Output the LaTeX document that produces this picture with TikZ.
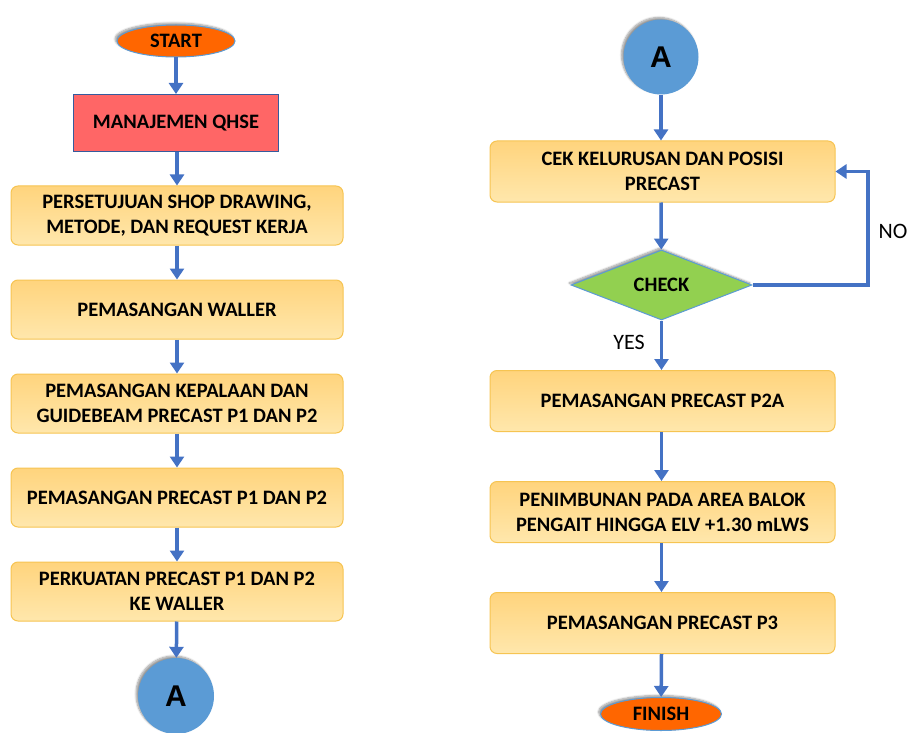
\documentclass[tikz,border=0pt]{standalone}
\usepackage{fontspec}
\setmainfont{Carlito}
\newfontfamily\arialfont{Liberation Sans}
\usetikzlibrary{shapes.geometric,arrows.meta,shadows.blur}
\definecolor{arrowblue}{RGB}{68,114,196}
\definecolor{edgeblue}{RGB}{91,155,213}
\definecolor{termorange}{RGB}{255,102,0}
\definecolor{qhsered}{RGB}{255,102,102}
\definecolor{boxtop}{RGB}{255,212,125}
\definecolor{boxbot}{RGB}{255,231,172}
\definecolor{boxedge}{RGB}{246,196,82}
\definecolor{checkgreen}{RGB}{146,208,80}
\definecolor{circblue}{RGB}{91,155,213}
\begin{document}
\begin{tikzpicture}[x=1pt,y=-1pt,
  txt/.style={font=\fontsize{20.5}{25}\selectfont\bfseries, align=center},
  softshadow/.style={blur shadow={shadow blur steps=6, shadow xshift=-2pt, shadow yshift=2pt, shadow opacity=40}},
  terminal/.style={ellipse, draw=edgeblue, line width=1pt, fill=termorange, inner sep=0pt, txt, softshadow},
  stepbox/.style={rectangle, rounded corners=7pt, draw=boxedge, line width=1pt, top color=boxtop, bottom color=boxbot, inner sep=0pt, txt},
  connector/.style={circle, fill=circblue, inner sep=0pt, minimum size=76pt, font=\arialfont\fontsize{30}{30}\selectfont\bfseries, softshadow},
  arr/.style={draw=arrowblue, line width=3.5pt, -{Triangle[width=14pt,length=11pt]}},
  lbl/.style={font=\fontsize{22}{24}\selectfont}
]
\useasboundingbox (0,0) rectangle (908,733);

% left column
\node[terminal, minimum width=118pt, minimum height=32pt] (start) at (176,41) {START};
\node[rectangle, draw=arrowblue!80!black, line width=1pt, fill=qhsered, minimum width=205pt, minimum height=57pt, txt] (qhse) at (176,123) {MANAJEMEN QHSE};
\node[stepbox, minimum width=332pt, minimum height=59pt] (b1) at (177,215.5) {PERSETUJUAN SHOP DRAWING,\\METODE, DAN REQUEST KERJA};
\node[stepbox, minimum width=332pt, minimum height=59pt] (b2) at (177,309.5) {PEMASANGAN WALLER};
\node[stepbox, minimum width=332pt, minimum height=59pt] (b3) at (177,403.5) {PEMASANGAN KEPALAAN DAN\\GUIDEBEAM PRECAST P1 DAN P2};
\node[stepbox, minimum width=332pt, minimum height=59pt] (b4) at (177,497.5) {PEMASANGAN PRECAST P1 DAN P2};
\node[stepbox, minimum width=332pt, minimum height=59pt] (b5) at (177,591.5) {PERKUATAN PRECAST P1 DAN P2\\KE WALLER};
\node[connector] (a1) at (176,696) {A};

\draw[arr] (start) -- (qhse);
\draw[arr] (qhse.south -| b1.north) -- (b1);
\draw[arr] (b1) -- (b2);
\draw[arr] (b2) -- (b3);
\draw[arr] (b3) -- (b4);
\draw[arr] (b4) -- (b5);
\draw[arr] (b5) -- (a1);

% right column
\node[connector, minimum size=75pt] (a2) at (661,57) {A};
\node[stepbox, minimum width=345pt, minimum height=61pt] (r1) at (662.5,171.5) {CEK KELURUSAN DAN POSISI\\PRECAST};
\node[diamond, aspect=2.6, draw=edgeblue, line width=1pt, fill=checkgreen, inner sep=0pt, minimum width=181pt, minimum height=70pt, txt, softshadow] (chk) at (661.5,285) {CHECK};
\node[stepbox, minimum width=345pt, minimum height=61pt] (r2) at (662.5,401) {PEMASANGAN PRECAST P2A};
\node[stepbox, minimum width=345pt, minimum height=61pt] (r3) at (662.5,512) {PENIMBUNAN PADA AREA BALOK\\PENGAIT HINGGA ELV +1.30 mLWS};
\node[stepbox, minimum width=345pt, minimum height=61pt] (r4) at (662.5,623) {PEMASANGAN PRECAST P3};
\node[terminal, minimum width=121pt, minimum height=33pt] (fin) at (661,714) {FINISH};

\coordinate (loopx) at (868,285);
\node[lbl] (nolbl) at (893,231) {NO};
\node[lbl] (yeslbl) at (629,342) {YES};

\draw[arr] (a2) -- (a2 |- r1.north);
\draw[arr] (a2 |- r1.south) -- (chk);
\draw[arr] (loopx -| chk.east) -- (loopx) |- (r1.east);
\draw[arr] (chk) -- (chk |- r2.north);
\draw[arr] (chk |- r2.south) -- (chk |- r3.north);
\draw[arr] (chk |- r3.south) -- (chk |- r4.north);
\draw[arr] (chk |- r4.south) -- (fin);
\end{tikzpicture}
\end{document}
